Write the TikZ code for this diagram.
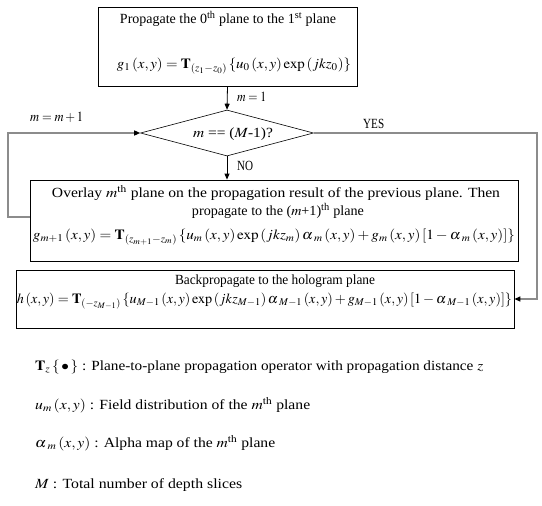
\documentclass[tikz,border=0pt]{standalone}
\usepackage{mathptmx}
\usepackage{graphicx}
\usepackage{fontspec}
\setmainfont{Liberation Serif}
\usetikzlibrary{shapes.geometric,arrows.meta}
\newcommand{\fitw}[2]{\resizebox{#1}{\height}{#2}}
\newcommand{\alp}{{\alpha\mkern1.5mu}}
\begin{document}
\begin{tikzpicture}[x=1pt,y=-1pt,
  box/.style={draw,line width=0.8pt,inner sep=0pt},
  lbl/.style={inner sep=0pt,font=\fontsize{14}{16}\selectfont},
  blk/.style={draw=black,line width=0.8pt,-{Triangle[length=6pt,width=5pt]}},
  gry/.style={draw=black!45,line width=1.3pt,-{Triangle[length=6pt,width=5pt,color=black]}}]
\useasboundingbox (0,0) rectangle (542,506);
% boxes
\node[box,minimum width=259pt,minimum height=79pt] (b1) at (227.5,46.5) {};
\node[draw,line width=0.6pt,shape=diamond,inner sep=0pt,minimum width=173pt,minimum height=46pt] (dia) at (227,133) {};
\node[box,minimum width=488pt,minimum height=81pt] (b3) at (274,220.5) {};
\node[box,minimum width=498pt,minimum height=58pt] (b4) at (265,299) {};
% texts
\node[lbl] (t1) at (228,19) {\fitw{216pt}{Propagate the 0\textsuperscript{th} plane to the 1\textsuperscript{st} plane}};
\node[lbl] (e1) at (234,66) {\fitw{234pt}{$g_1\left(x,y\right)=\mathbf{T}_{(z_1-z_0)}\left\{u_0\left(x,y\right)\exp\left(jkz_0\right)\right\}$}};
\node[lbl] (d1) at (233,134) {\fitw{80pt}{$m$ == ($M$-1)?}};
\node[lbl] (t3a) at (276,193) {\fitw{448pt}{Overlay $m^{\mathrm{th}}$ plane on the propagation result of the previous plane. Then}};
\node[lbl] (t3b) at (278,211) {\fitw{172pt}{propagate to the ($m$+1)\textsuperscript{th} plane}};
\node[lbl] (e3) at (274,237) {\fitw{482pt}{$g_{m+1}\left(x,y\right)=\mathbf{T}_{(z_{m+1}-z_m)}\left\{u_m\left(x,y\right)\exp\left(jkz_m\right)\alp_m\left(x,y\right)+g_m\left(x,y\right)\left[1-\alp_m\left(x,y\right)\right]\right\}$}};
\node[lbl] (t4) at (275,281) {\fitw{200pt}{Backpropagate to the hologram plane}};
\node[lbl] (e4) at (264.5,301) {\fitw{495pt}{$h\left(x,y\right)=\mathbf{T}_{(-z_{M-1})}\left\{u_{M-1}\left(x,y\right)\exp\left(jkz_{M-1}\right)\alp_{M-1}\left(x,y\right)+g_{M-1}\left(x,y\right)\left[1-\alp_{M-1}\left(x,y\right)\right]\right\}$}};
% labels on connectors
\node[lbl,anchor=west] (lm1) at (237,97) {\fitw{29pt}{$m=1$}};
\node[lbl,anchor=west] (lmm) at (30,117) {\fitw{53pt}{$m=m+1$}};
\node[lbl,anchor=west] (lyes) at (363,124) {\fitw{21pt}{YES}};
\node[lbl,anchor=west] (lno) at (237,166) {\fitw{16pt}{NO}};
% legend
\node[lbl,anchor=west] (g1) at (35,367) {\fitw{448pt}{$\mathbf{T}_z\left\{\,\bullet\,\right\}$ : Plane-to-plane propagation operator with propagation distance $z$}};
\node[lbl,anchor=west] (g2) at (35,405) {\fitw{275pt}{$u_m\left(x,y\right)$ : Field distribution of the $m^{\mathrm{th}}$ plane}};
\node[lbl,anchor=west] (g3) at (35,443) {\fitw{240pt}{$\alp_m\left(x,y\right)$ : Alpha map of the $m^{\mathrm{th}}$ plane}};
\node[lbl,anchor=west] (g4) at (35,485) {\fitw{207pt}{$M$ : Total number of depth slices}};
% connectors
\coordinate (L) at (8,217);
\coordinate (R) at (537,133);
\draw[blk] (b1.south) -- (dia.north);
\draw[blk] (dia.south) -- (dia.south |- b3.north);
\draw[gry] (b3.west |- L) -- (L) |- (dia.west);
\draw[gry] (dia.east) -- (R) |- (b4.east);
\end{tikzpicture}
\end{document}
